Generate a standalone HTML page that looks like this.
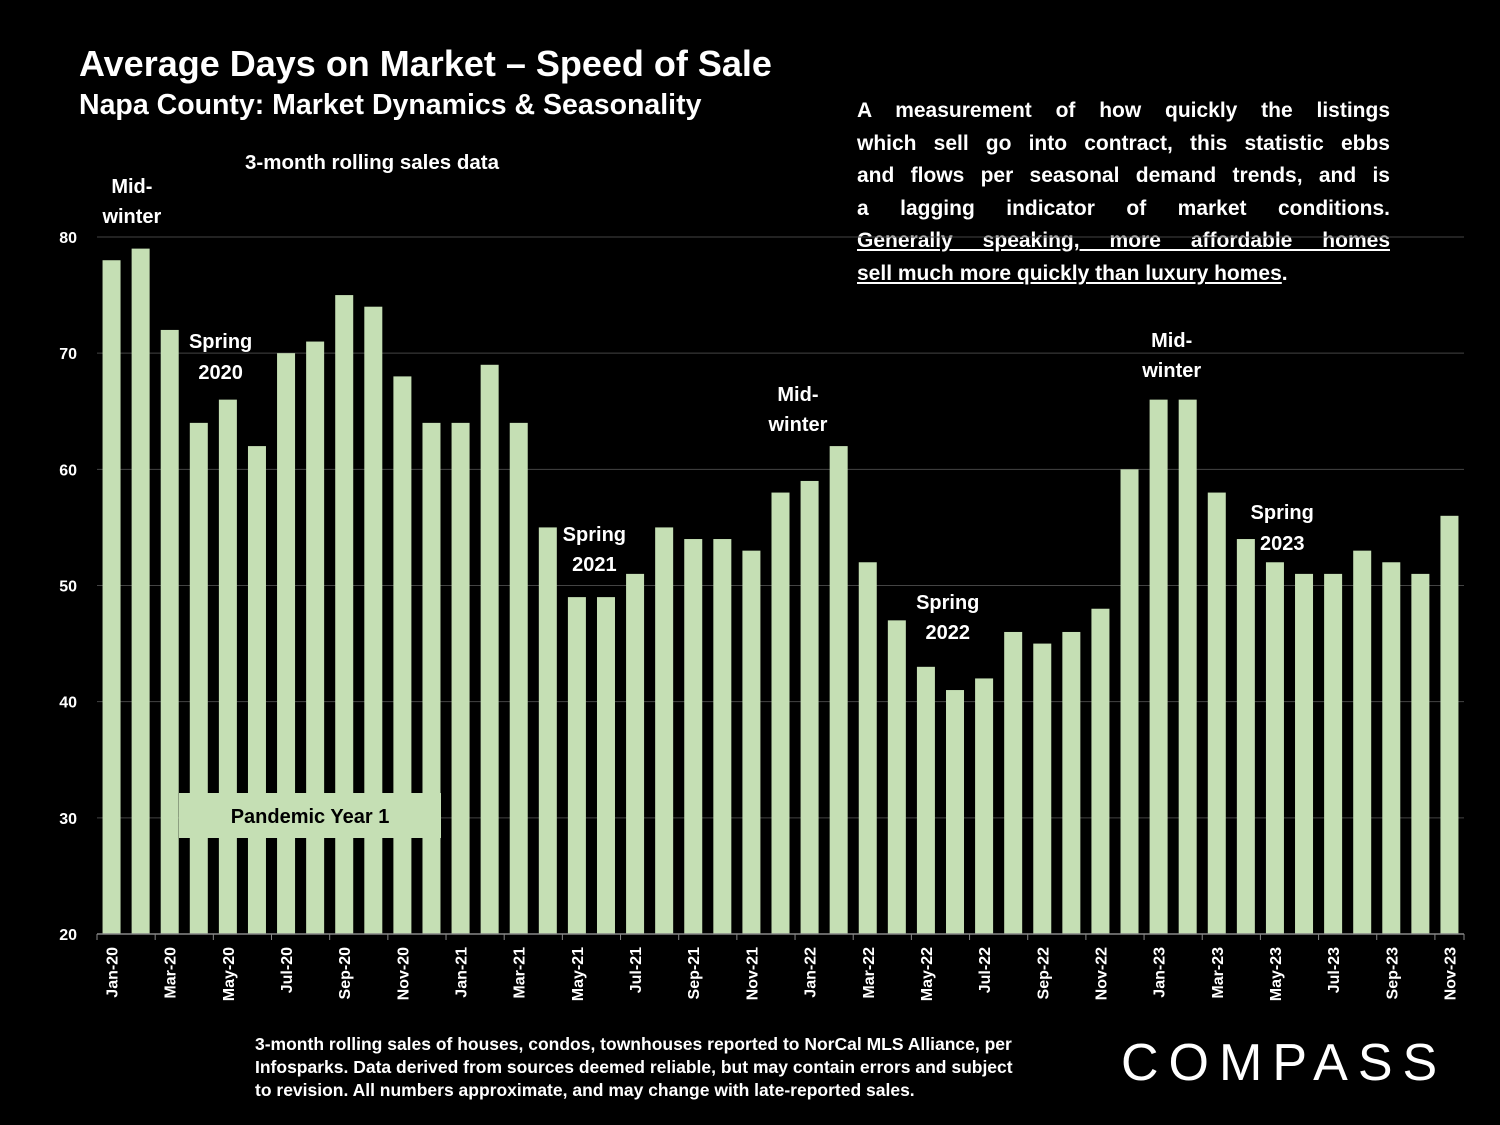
<!DOCTYPE html>
<html><head><meta charset="utf-8"><style>
body{margin:0;background:#000;width:1500px;height:1125px;overflow:hidden;font-family:"Liberation Sans",Arial,sans-serif;color:#fff}
.t{position:absolute;font-weight:bold}
svg{position:absolute;left:0;top:0}
.dl{text-align:justify;text-align-last:justify;white-space:nowrap;height:32.5px}
</style></head><body>
<div class="t" style="left:79px;top:43px;font-size:36px">Average Days on Market – Speed of Sale</div>
<div class="t" style="left:79px;top:89px;font-size:28.5px">Napa County: Market Dynamics &amp; Seasonality</div>
<div class="t" style="left:245px;top:151px;font-size:20.5px">3-month rolling sales data</div>
<div class="t" style="left:857px;top:95px;width:533px;font-size:21px;line-height:32.5px">
<div class="dl">A measurement of how quickly the listings</div>
<div class="dl">which sell go into contract, this statistic ebbs</div>
<div class="dl">and flows per seasonal demand trends, and is</div>
<div class="dl">a lagging indicator of market conditions.</div>
<div class="dl" style="text-decoration:underline">Generally speaking, more affordable homes</div>
<div style="height:32.5px"><u>sell much more quickly than luxury homes</u>.</div>
</div>
<svg id="chart" width="1500" height="1125"></svg>
<div class="t" style="left:255px;top:1033px;font-size:17.5px;line-height:23px;white-space:nowrap">3-month rolling sales of houses, condos, townhouses reported to NorCal MLS Alliance, per<br>Infosparks. Data derived from sources deemed reliable, but may contain errors and subject<br>to revision. All numbers approximate, and may change with late-reported sales.</div>
<div style="position:absolute;left:1121px;top:1033px;font-size:52px;letter-spacing:10px;font-weight:normal">COMPASS</div>
<script>
const categories=["Jan-20","Feb-20","Mar-20","Apr-20","May-20","Jun-20","Jul-20","Aug-20","Sep-20","Oct-20","Nov-20","Dec-20","Jan-21","Feb-21","Mar-21","Apr-21","May-21","Jun-21","Jul-21","Aug-21","Sep-21","Oct-21","Nov-21","Dec-21","Jan-22","Feb-22","Mar-22","Apr-22","May-22","Jun-22","Jul-22","Aug-22","Sep-22","Oct-22","Nov-22","Dec-22","Jan-23","Feb-23","Mar-23","Apr-23","May-23","Jun-23","Jul-23","Aug-23","Sep-23","Oct-23","Nov-23"];
const values=[78,79,72,64,66,62,70,71,75,74,68,64,64,69,64,55,49,49,51,55,54,54,53,58,59,62,52,47,43,41,42,46,45,46,48,60,66,66,58,54,52,51,51,53,52,51,56];
const yTicks=[20,30,40,50,60,70,80];
const annotations=[["Mid-",0.7,193],["winter",0.7,223],["Spring",3.75,348],["2020",3.75,379],["Spring",16.6,541],["2021",16.6,571],["Mid-",23.6,401],["winter",23.6,431],["Spring",28.75,609],["2022",28.75,639],["Mid-",36.45,347],["winter",36.45,377],["Spring",40.25,519],["2023",40.25,550]];
const svg=document.getElementById('chart');const NS='http://www.w3.org/2000/svg';
const x0=97,x1=1464,step=(x1-x0)/categories.length;
const y=v=>934-(v-20)*(934-237)/60;
const xc=i=>x0+step*(i+0.5);
function mk(t,a){const e=document.createElementNS(NS,t);for(const k in a)e.setAttribute(k,a[k]);svg.appendChild(e);return e;}
yTicks.forEach(v=>{
 if(v>20){const g=mk('line',{x1:x0,x2:x1,y1:y(v),y2:y(v),stroke:'#444','stroke-width':1});
 
 }
 const t=mk('text',{x:77,y:y(v)+6,'text-anchor':'end',fill:'#fff','font-size':16,'font-weight':'bold'});t.textContent=v;
 
 
});
values.forEach((v,i)=>{
 const r=mk('rect',{x:xc(i)-9,y:y(v),width:18,height:934-y(v),fill:'#c5dfb4'});
 
 
});
mk('line',{x1:x0,x2:x1,y1:934,y2:934,stroke:'#888','stroke-width':1.5});
categories.forEach((c,i)=>{
 if(i%2===0){
  mk('line',{x1:x0+step*i,x2:x0+step*i,y1:934,y2:940,stroke:'#888'});
  const t=mk('text',{transform:`translate(${xc(i)+6},947) rotate(-90)`,'text-anchor':'end',fill:'#fff','font-size':16,'font-weight':'bold'});t.textContent=c;
  
  
 }
});
mk('line',{x1:x1,x2:x1,y1:934,y2:940,stroke:'#888'});
annotations.forEach(a=>{
 const t=mk('text',{x:xc(a[1]),y:a[2],'text-anchor':'middle',fill:'#fff','font-size':20,'font-weight':'bold'});t.textContent=a[0];
 
 
});
const b=mk('rect',{x:179,y:793,width:262,height:45,fill:'#c5dfb4'});


const bt=mk('text',{x:310,y:823,'text-anchor':'middle',fill:'#000','font-size':20,'font-weight':'bold'});bt.textContent='Pandemic Year 1';


</script>
</body></html>
